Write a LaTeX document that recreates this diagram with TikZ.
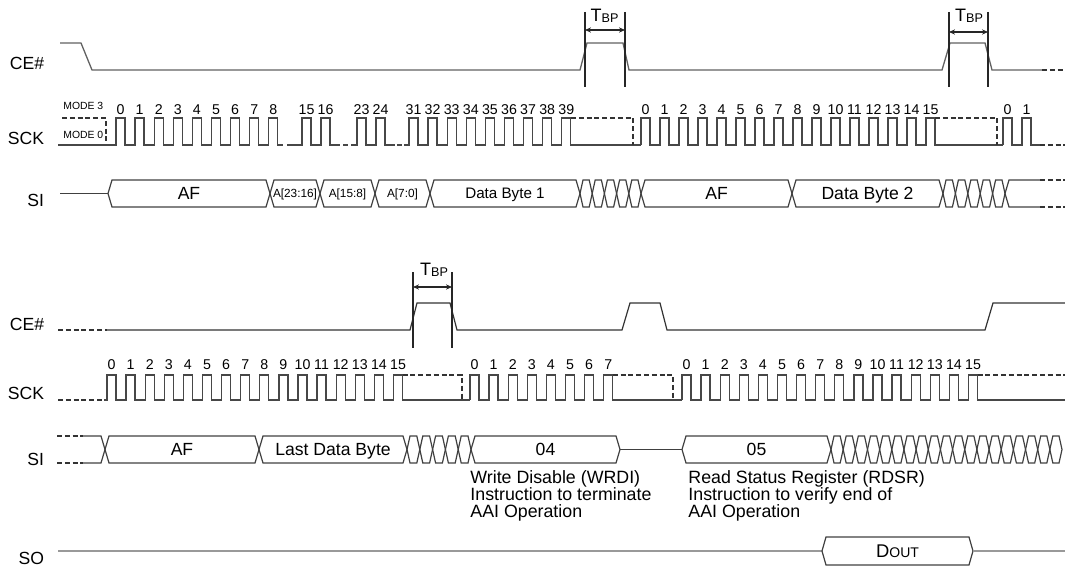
\documentclass[tikz,border=0pt]{standalone}
\usepackage{fontspec}
\setmainfont{Liberation Sans}
\usetikzlibrary{arrows.meta}
\newcommand\myfs[1]{\fontsize{#1}{#1}\selectfont}
\tikzset{
  sig/.style={draw=black!80, line width=0.6pt, line join=miter},
  ceone/.style={draw=black!62, line width=0.65pt},
  clk/.style={draw=black!72, line width=0.65pt},
  bus/.style={draw=black!75, line width=0.6pt},
  sol/.style={draw=black!40, line width=0.9pt},
  dsh/.style={draw=black!80, line width=0.6pt, dash pattern=on 2.5pt off 1.4pt},
  siglab/.style={anchor=base east, inner sep=0pt, font=\myfs{8.8}},
  num/.style={anchor=base, inner sep=0pt, font=\myfs{7.1}},
  btxt/.style={anchor=base, inner sep=0pt, font=\myfs{8.8}},
  stxt/.style={anchor=base, inner sep=0pt, font=\myfs{5.9}},
  dtxt/.style={anchor=base west, inner sep=0pt, font=\myfs{8.9}},
  mtxt/.style={anchor=base west, inner sep=0pt, font=\myfs{5.2}},
  tbp/.style={anchor=base, inner sep=0pt},
  tmark/.style={draw=black!85, line width=0.6pt},
  tarrow/.style={draw=black!85, line width=0.6pt, {Stealth[length=3pt,width=2.6pt]}-{Stealth[length=3pt,width=2.6pt]}}
}
% bus segment: xa, xb, mid, half height, slope width
\newcommand\bussegs[5]{\draw[bus] (#1,#3) -- ({#1+#5},{#3-#4}) -- ({#2-#5},{#3-#4}) -- (#2,#3) -- ({#2-#5},{#3+#4}) -- ({#1+#5},{#3+#4}) -- cycle;}
\newcommand\busseg[4]{\bussegs{#1}{#2}{#3}{#4}{4}}
% crossed cells: xa, xb, count, mid, half
\newcommand\xcells[5]{%
  \pgfmathsetmacro\cw{(#2-#1)/#3}%
  \foreach \k in {1,...,#3}{%
    \pgfmathsetmacro\xa{#1+(\k-1)*\cw}%
    \pgfmathsetmacro\xb{#1+\k*\cw}%
    \bussegs{\xa}{\xb}{#4}{#5}{3}%
  }}
\def\labgap{3}
% clock group: xstart, x0, period, n1, n2, xend, ylow, yhigh, prefix
\newcommand\clkgroup[9]{%
  \draw[clk] (#1,#7) foreach \n [count=\c from 0] in {#4,...,#5} { -- ({#2+\c*#3},#7) -- ++(0,{#8-#7}) -- ++(9,0) -- ++(0,{#7-#8}) } -- (#6,#7);
  \foreach \n [count=\c from 0] in {#4,...,#5} \node[num] (#9\n) at ({#2+\c*#3+4.5},{#8-\labgap}) {\n};
}
\begin{document}
\begin{tikzpicture}[x=0.5pt,y=-0.5pt]
\useasboundingbox (0,0) rectangle (1065,567);

% ---------------- signal labels
\node[siglab] (ce1) at (44.5,70) {CE\#};
\node[siglab] (sck1) at (44.5,145) {SCK};
\node[siglab] (si1) at (44.5,206) {SI};
\node[siglab] (ce2) at (44.5,330) {CE\#};
\node[siglab] (sck2) at (44.5,399) {SCK};
\node[siglab] (si2) at (44.5,465) {SI};
\node[siglab] (so) at (44.5,564) {SO};

% ---------------- row 1 CE#
\draw[ceone] (60,43) -- (81,43) -- (92,70) -- (580,70) -- (587,43) -- (623,43) -- (629,70)
  -- (942,70) -- (950,43) -- (985,43) -- (992,70) -- (1042,70);
\draw[dsh] (1042,70) -- (1065,70);
% TBP marks row 1
\draw[tmark] (585,12) -- (585,87);
\draw[tmark] (625,12) -- (625,87);
\draw[tarrow] (585,30) -- (625,30);
\node[tbp] (tbp1) at (604.5,22) {{\myfs{9}T}{\myfs{6.3}\raisebox{-0.5pt}{BP}}};
\draw[tmark] (949,12) -- (949,87);
\draw[tmark] (988,12) -- (988,87);
\draw[tarrow] (949,32) -- (988,32);
\node[tbp] (tbp2) at (969,22) {{\myfs{9}T}{\myfs{6.3}\raisebox{-0.5pt}{BP}}};

% ---------------- row 1 SCK
\node[mtxt] (m3) at (63,110) {MODE 3};
\node[mtxt] (m0) at (63,139) {MODE 0};
\draw[dsh] (62,118) -- (106,118) -- (106,145);
\def\labgap{3}
\clkgroup{58}{116}{19.1}{0}{8}{283}{145}{118}{ra}
\clkgroup{287}{302}{19}{15}{16}{340}{145}{118}{rb}
\draw[clk] (343,145) -- (348,145);
\clkgroup{351}{357}{19}{23}{24}{395}{145}{118}{rc}
\draw[clk] (397,145) -- (402,145);
\clkgroup{404}{409}{19.1}{31}{39}{641}{145}{118}{rd}
\draw[dsh] (571,118) -- (633,118) -- (633,145);
\clkgroup{641}{641}{19}{0}{15}{1003}{145}{118}{re}
\draw[dsh] (935,118) -- (997,118) -- (997,145);
\clkgroup{1003}{1003}{19}{0}{1}{1040}{145}{118}{rf}
\draw[dsh] (1040,145) -- (1065,145);

% ---------------- row 1 SI
\draw[bus] (60,193.5) -- (108,193.5);
\busseg{108}{270}{193.5}{13.5}
\node[btxt] (af1) at (189,199.5) {AF};
\busseg{270}{320}{193.5}{13.5}
\node[stxt] (a1) at (295,197.5) {A[23:16]};
\busseg{320}{375}{193.5}{13.5}
\node[stxt] (a2) at (347.5,197.5) {A[15:8]};
\busseg{375}{430}{193.5}{13.5}
\node[stxt] (a3) at (402.5,197.5) {A[7:0]};
\busseg{430}{580}{193.5}{13.5}
\node[btxt, font=\myfs{7.6}] (db1) at (505,198.5) {Data Byte 1};
\xcells{580}{641}{5}{193.5}{13.5}
\busseg{641}{792}{193.5}{13.5}
\node[btxt] (af2) at (716.5,199.5) {AF};
\busseg{792}{943}{193.5}{13.5}
\node[btxt] (db2) at (867.5,199.5) {Data Byte 2};
\xcells{943}{1005}{5}{193.5}{13.5}
\draw[bus] (1040,180) -- (1009,180) -- (1005,193.5) -- (1009,207) -- (1040,207);
\draw[dsh] (1040,180) -- (1065,180);
\draw[dsh] (1040,207) -- (1065,207);

% ---------------- row 2 CE#
\draw[dsh] (58,330) -- (107,330);
\draw[sig] (107,330) -- (410,330) -- (417,303) -- (450,303) -- (457,330) -- (622,330) -- (630,303)
  -- (660,303) -- (667,330) -- (985,330) -- (993,303) -- (1065,303);
\draw[tmark] (413,272) -- (413,348);
\draw[tmark] (452,272) -- (452,348);
\draw[tarrow] (413,287) -- (452,287);
\node[tbp] (tbp3) at (434,275) {{\myfs{9}T}{\myfs{6.3}\raisebox{-0.5pt}{BP}}};

% ---------------- row 2 SCK
\def\labgap{6}
\draw[dsh] (58,400) -- (104,400);
\clkgroup{104}{107}{19.1}{0}{15}{470}{400}{375}{sa}
\draw[dsh] (402.5,375) -- (462,375) -- (462,400);
\clkgroup{470}{470}{19.1}{0}{7}{682}{400}{375}{sb}
\draw[dsh] (612.7,375) -- (673,375) -- (673,400);
\clkgroup{682}{682}{19.1}{0}{15}{1065}{400}{375}{sc}
\draw[dsh] (977.5,375) -- (1065,375);

% ---------------- row 2 SI
\draw[dsh] (57,436) -- (83,436);
\draw[dsh] (57,463) -- (83,463);
\draw[bus] (83,436) -- (101,436) -- (105,449.5) -- (101,463) -- (83,463);
\busseg{105}{259}{449.5}{13.5}
\node[btxt] (af3) at (182,455.5) {AF};
\busseg{259}{407}{449.5}{13.5}
\node[btxt] (ldb) at (333,455.5) {Last Data Byte};
\xcells{407}{471}{5}{449.5}{13.5}
\busseg{471}{620}{449.5}{13.5}
\node[btxt] (c04) at (545.5,455.5) {04};
\draw[bus] (620,449.5) -- (682,449.5);
\busseg{682}{831}{449.5}{13.5}
\node[btxt] (c05) at (756.5,455.5) {05};
\xcells{831}{1062}{19}{449.5}{13.5}

\node[dtxt] (w1) at (470,483) {Write Disable (WRDI)};
\node[dtxt] (w2) at (470,500) {Instruction to terminate};
\node[dtxt] (w3) at (470,517) {AAI Operation};
\node[dtxt] (r1) at (688,483) {Read Status Register (RDSR)};
\node[dtxt] (r2) at (688,500) {Instruction to verify end of};
\node[dtxt] (r3) at (688,517) {AAI Operation};

% ---------------- SO
\draw[sol] (58,551) -- (822,551);
\busseg{822}{973}{551}{14}
\node[tbp] (dout) at (897.5,557.5) {{\myfs{9.2}D}{\myfs{7}OUT}};
\draw[sol] (973,551) -- (1065,551);
\end{tikzpicture}
\end{document}
